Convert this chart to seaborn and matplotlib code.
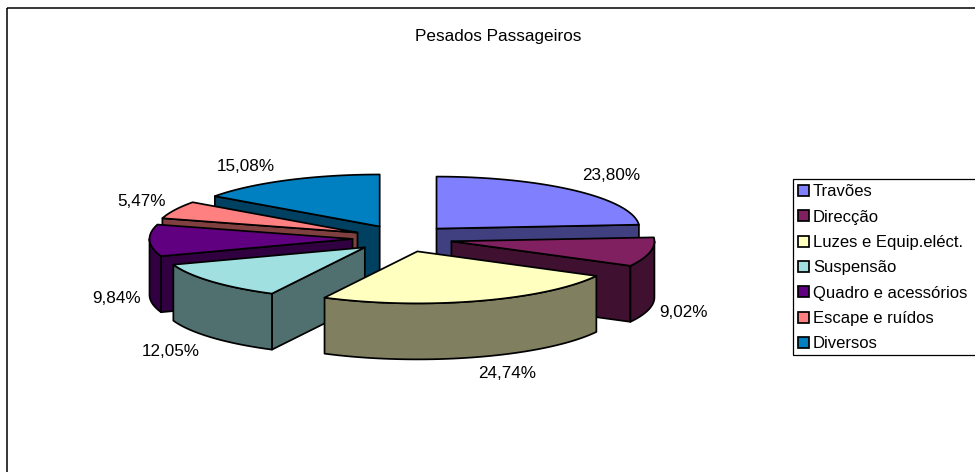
import numpy as np
import matplotlib
matplotlib.use("Agg")
import matplotlib.pyplot as plt
from matplotlib.patches import Polygon, Patch, Rectangle
import seaborn as sns

categories = ["Travões", "Direcção", "Luzes e Equip.eléct.", "Suspensão",
              "Quadro e acessórios", "Escape e ruídos", "Diversos"]
values = [23.80, 9.02, 24.74, 12.05, 9.84, 5.47, 15.08]
value_labels = ["23,80%", "9,02%", "24,74%", "12,05%", "9,84%", "5,47%", "15,08%"]
top_colors = ["#8080FF", "#802060", "#FFFFC0", "#A0E0E0", "#600080", "#FF8080", "#0080C0"]
title = "Pesados Passageiros"

sns.set_theme(style="white")
plt.rcParams["font.family"] = ["Liberation Sans", "DejaVu Sans"]

palette = sns.color_palette(top_colors)
side_colors = [tuple(c * 0.5 for c in col) for col in palette]

# layout in pixels
CX, CY = 402.5, 238.5
RX, RY = 203, 52
EXPLODE_X, EXPLODE_Y = 50, 13.5
DEPTH = 56
LW = 1.25
FS = 12.3
label_offsets = [(37, -15), (33, 60), (29, 72), (-41, 70), (-33, 58), (-33, -8), (-41, -14)]

fig = plt.figure(figsize=(9.75, 4.72), dpi=100, facecolor="white")
ax = fig.add_axes([0, 0, 1, 1])
ax.set_xlim(0, 975)
ax.set_ylim(472, 0)
ax.axis("off")

ax.add_patch(Rectangle((6.5, 7.5), 1000, 500, fill=False, ec="black", lw=1.1, zorder=0))
ax.text(498, 37, title, ha="center", va="center", fontsize=FS, color="black")

edges = np.concatenate([[0], np.cumsum(values)]) / np.sum(values) * 360
mids = (edges[:-1] + edges[1:]) / 2


def point(apex, deg):
    t = np.radians(deg)
    return apex[0] + RX * np.sin(t), apex[1] - RY * np.cos(t)


def face(pts, color, z):
    ax.add_patch(Polygon(pts, closed=True, fc=color, ec="black", lw=LW,
                         joinstyle="round", zorder=z))


order = np.argsort(-np.cos(np.radians(mids)))
for rank, i in enumerate(order):
    t1, t2 = edges[i], edges[i + 1]
    m = np.radians(mids[i])
    apex = (CX + EXPLODE_X * np.sin(m), CY - EXPLODE_Y * np.cos(m))
    z = 2 + rank
    # visible straight side faces
    if np.sin(np.radians(t1)) < -1e-6:
        p = point(apex, t1)
        face([apex, p, (p[0], p[1] + DEPTH), (apex[0], apex[1] + DEPTH)], side_colors[i], z)
    if np.sin(np.radians(t2)) > 1e-6:
        p = point(apex, t2)
        face([apex, p, (p[0], p[1] + DEPTH), (apex[0], apex[1] + DEPTH)], side_colors[i], z)
    # visible rim
    a, b = max(t1, 90), min(t2, 270)
    if b > a:
        arc = np.array([point(apex, d) for d in np.linspace(a, b, 60)])
        low = arc[::-1] + [0, DEPTH]
        face(np.vstack([arc, low]), side_colors[i], z)
    # top surface
    arc = [point(apex, d) for d in np.linspace(t1, t2, 90)]
    face([apex] + arc, palette[i], z)
    # value label
    o = point(apex, mids[i])
    dx, dy = label_offsets[i]
    ax.text(o[0] + dx, o[1] + dy, value_labels[i], ha="center", va="center",
            fontsize=FS, color="black", zorder=50)

# legend box runs past the right edge of the picture, as in the original
ax.add_patch(Rectangle((792.5, 178.5), 220, 176, fc="white", ec="black", lw=0.9, zorder=59))
handles = [Patch(fc=c, ec="black", lw=1.25) for c in palette]
leg = ax.legend(handles, categories, loc="upper left",
                bbox_to_anchor=(792, 178), bbox_transform=ax.transData,
                fontsize=12, frameon=False,
                handlelength=0.66, handleheight=0.66,
                handletextpad=0.22, labelspacing=0.62, borderpad=0.38,
                borderaxespad=0, labelcolor="black")
leg.set_zorder(60)

fig.savefig("out.png", dpi=100)
